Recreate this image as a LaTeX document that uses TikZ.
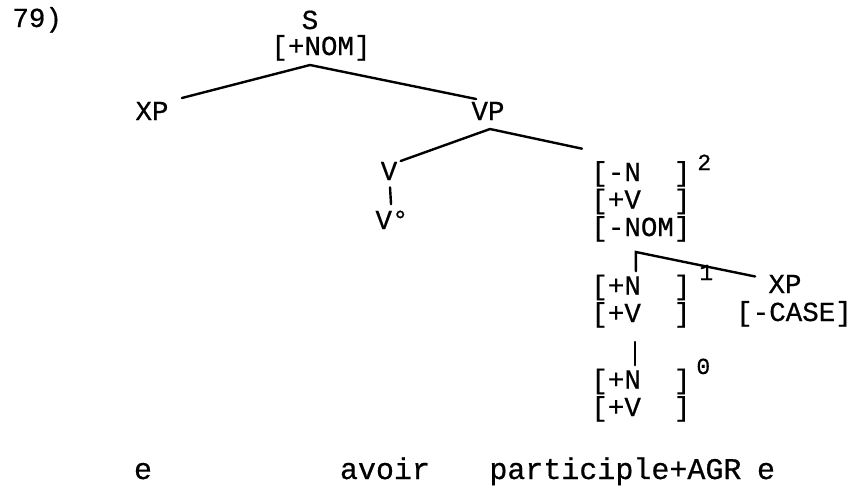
\documentclass[tikz,border=0pt]{standalone}
\usepackage{fontspec}
\setmonofont{Liberation Mono}[FakeBold=0.6]
\usetikzlibrary{positioning}
\begin{document}
\begin{tikzpicture}[x=0.5pt, y=-0.5pt,
    tw/.style={font=\ttfamily\fontsize{13.75}{13.75}\selectfont, inner sep=0pt, anchor=base},
    fm/.style={tw, align=left, anchor=base west},
    idx/.style={font=\ttfamily\fontsize{11.5}{11.5}\selectfont, inner sep=0pt, anchor=base west},
    wd/.style={tw, font=\ttfamily\fontsize{15}{15}\selectfont},
    br/.style={line width=1.2pt, line cap=round}]
  \useasboundingbox (0,0) rectangle (858,494);
  % label and root
  \node[tw, anchor=base west] (num) at (12,27) {79)};
  \node[tw] (s) at (310,29) {S};
  \node[tw] (snom) at (321,55) {[+NOM]};
  \node[tw] (xp1) at (152,120) {XP};
  \node[tw] (vp) at (488,120) {VP};
  % verb
  \node[tw] (v) at (389,180) {V};
  \node[tw] (vnull) at (392,229) {V°};
  % feature matrices
  \node[fm] (m2) at (591,236) {[-N\phantom{OM}]\\{[}+V\phantom{OM}]\\{[}-NOM]};
  \node[idx] (i2) at (697,170) {2};
  \node[fm] (m1) at (591,322) {[+N\phantom{OM}]\\{[}+V\phantom{OM}]};
  \node[idx] (i1) at (699,280) {1};
  \node[tw] (xp2) at (785,293) {XP};
  \node[tw] (cs) at (794,321) {[-CASE]};
  \node[fm] (m0) at (591,416) {[+N\phantom{OM}]\\{[}+V\phantom{OM}]};
  \node[idx] (i0) at (696,374) {0};
  % terminal string
  \node[wd] (e1) at (143,479) {e};
  \node[wd] (av) at (385,479) {avoir};
  \node[wd, anchor=base west] (pa) at (489,479) {participle+AGR};
  \node[wd] (e2) at (766,479) {e};
  % branches
  \draw[br] ([shift={(-11,10)}]snom.base) -- ([shift={(13,-22)}]xp1.base east);
  \draw[br] ([shift={(-11,10)}]snom.base) -- ([shift={(5,-21)}]vp.base west);
  \draw[br] ([shift={(2,9)}]vp.base) -- ([shift={(3,-19)}]v.base east);
  \draw[br] ([shift={(2,9)}]vp.base) -- ([shift={(-9,-12)}]m2.north west);
  \draw[br, shorten <=3.5pt, shorten >=3pt] (v) -- (vnull);
  \draw[br] ([shift={(-5,-3)}]m1.north) -- ([shift={(-5,16)}]m2.base) -- ([shift={(-13,2)}]xp2.north west);
  \draw[br] ([shift={(-6,20)}]m1.base) -- ([shift={(-6,-3)}]m0.north);
\end{tikzpicture}
\end{document}
